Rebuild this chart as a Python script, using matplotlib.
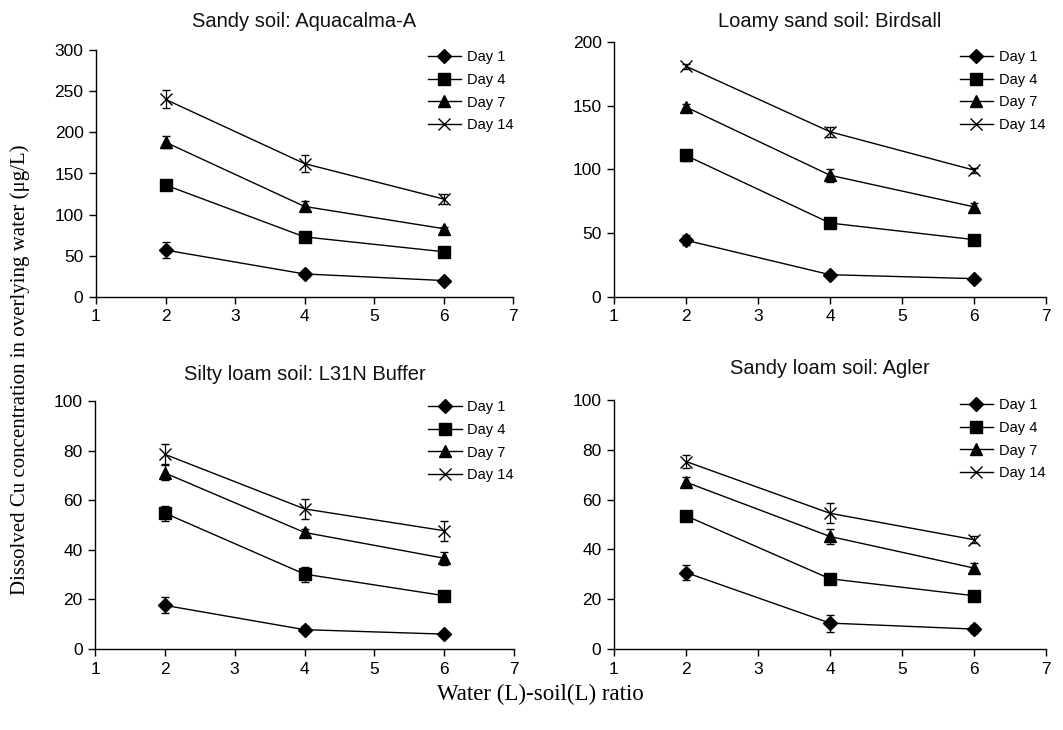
import matplotlib
matplotlib.use("Agg")
import matplotlib.pyplot as plt

plt.rcParams["font.family"] = ["Liberation Sans", "DejaVu Sans"]

ratio = [2, 4, 6]
days = ["Day 1", "Day 4", "Day 7", "Day 14"]
titles = ["Sandy soil: Aquacalma-A", "Loamy sand soil: Birdsall",
          "Silty loam soil: L31N Buffer", "Sandy loam soil: Agler"]
ymax = [300, 200, 100, 100]
ystep = [50, 50, 20, 20]

# Sandy soil: Aquacalma-A
aqua_vals = [[57, 28, 20], [136, 73, 55], [188, 110, 83], [240, 162, 119]]
aqua_err = [[10, 3, 1], [4, 3, 2], [7, 6, 2], [11, 10, 6]]
# Loamy sand soil: Birdsall
bird_vals = [[44.5, 17.5, 14.4], [111, 58, 45], [149, 95.5, 70.7], [181, 129.6, 99.5]]
bird_err = [[4, 2, 1], [4, 2, 2], [2, 5, 3], [2, 4, 2]]
# Silty loam soil: L31N Buffer
silt_vals = [[17.6, 7.8, 6.0], [54.8, 30.2, 21.5], [71, 47, 36.6], [78.5, 56.5, 47.7]]
silt_err = [[3.2, 1.5, 0.5], [3, 3, 1], [3, 1.5, 2.7], [4, 4, 4]]
# Sandy loam soil: Agler
agler_vals = [[30.7, 10.4, 8.0], [53.5, 28.2, 21.4], [67, 45.2, 32.5], [75.3, 54.5, 43.9]]
agler_err = [[3, 3.4, 1.5], [1, 1.5, 1.5], [2, 3, 2], [2.5, 4, 1.5]]

all_vals = [aqua_vals, bird_vals, silt_vals, agler_vals]
all_errs = [aqua_err, bird_err, silt_err, agler_err]

markers = ["D", "s", "^", "x"]
msizes = [7, 8, 8, 8]

W, H = 1063, 730
fig = plt.figure(figsize=(W / 100, H / 100), dpi=100)

# axes boxes in pixels: left, right, top, bottom
boxes = [(96, 513, 50, 297), (614, 1046, 42, 297),
         (95, 514, 401, 649), (614, 1046, 400, 649)]
title_base = [27, 27, 380, 374]
leg_anchor = [(0.795, 1.0), (0.80, 0.969), (0.795, 1.004), (0.80, 1.008)]

for i in range(4):
    l, r, t, b = boxes[i]
    ax = fig.add_axes([l / W, 1 - b / H, (r - l) / W, (b - t) / H])
    for j in range(4):
        ax.errorbar(ratio, all_vals[i][j], yerr=all_errs[i][j], color="black",
                    marker=markers[j], markersize=msizes[j], mfc="black", mec="black",
                    mew=1.0, lw=1.0, elinewidth=0.9, capsize=3, capthick=0.9,
                    label=days[j])
    ax.set_xlim(1, 7)
    ax.set_ylim(0, ymax[i])
    ax.set_xticks(range(1, 8))
    ax.set_yticks(range(0, ymax[i] + 1, ystep[i]))
    for s in ["top", "right"]:
        ax.spines[s].set_visible(False)
    ax.spines["left"].set_linewidth(1.0)
    ax.spines["bottom"].set_linewidth(1.0)
    ax.tick_params(direction="out", length=5, width=1.0, labelsize=12.5,
                   colors="black", pad=4)
    fig.text((l + r) / 2 / W, 1 - title_base[i] / H, titles[i], ha="center",
             va="baseline", fontsize=14.5, color="#111111")
    handles, labels = ax.get_legend_handles_labels()
    handles = [h[0] for h in handles]
    ax.legend(handles, labels, loc="upper left", bbox_to_anchor=leg_anchor[i],
              frameon=False, fontsize=10.5, handlelength=2.3, handletextpad=0.4,
              labelspacing=0.6, borderpad=0, borderaxespad=0)

fig.text(540 / W, 1 - 694 / H, "Water (L)-soil(L) ratio", ha="center", va="center",
         family="Liberation Serif", fontsize=16.5)
fig.text(20 / W, 1 - 370 / H, "Dissolved Cu concentration in overlying water (\u03bcg/L)",
         ha="center", va="center", rotation=90, family="Liberation Serif", fontsize=15)

fig.savefig("out.png", dpi=100)
